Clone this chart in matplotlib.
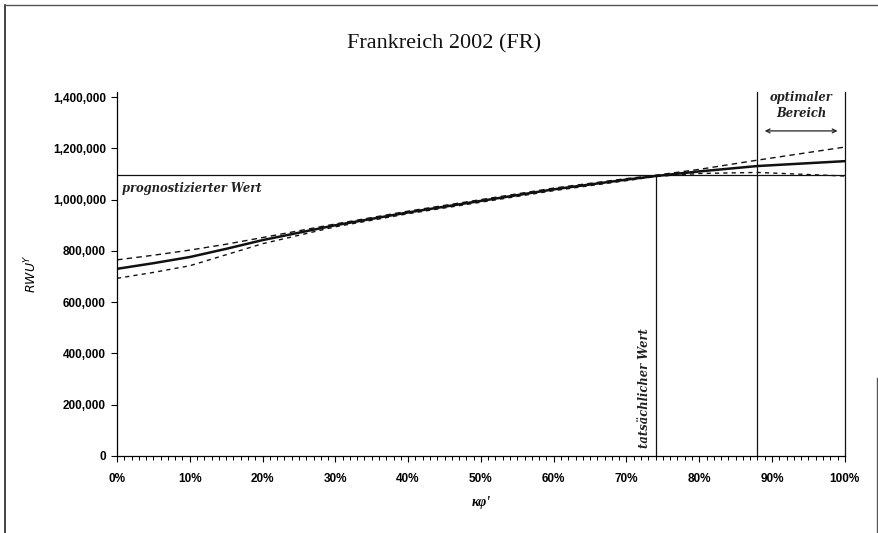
import numpy as np
import matplotlib
matplotlib.use("Agg")
import matplotlib.pyplot as plt
from matplotlib.ticker import MultipleLocator, FuncFormatter
from matplotlib.lines import Line2D

# anteil kappa-phi (0..1) und werte
x_share = [0.0, 0.05, 0.10, 0.15, 0.20, 0.30, 0.40, 0.50, 0.60, 0.70, 0.74, 0.80, 0.88, 1.00]
rwu_mid = [730000, 752000, 776000, 808000, 842000, 900000, 950000, 995000, 1040000, 1078000, 1092000, 1110000, 1131000, 1150000]
rwu_up = [765000, 783000, 803000, 826000, 852000, 905000, 955000, 1000000, 1045000, 1082000, 1095000, 1118000, 1154000, 1205000]
rwu_low = [693000, 716000, 742000, 785000, 828000, 894000, 945000, 990000, 1035000, 1074000, 1090000, 1102000, 1106000, 1092000]

prognose = 1095000
tatsaechlich = 0.74
optimal_von = 0.88
optimal_bis = 1.00

y_ticks = [0, 200000, 400000, 600000, 800000, 1000000, 1200000, 1400000]

tick_font = ['Liberation Sans Narrow', 'Liberation Sans', 'DejaVu Sans']
serif = ['Liberation Serif', 'DejaVu Serif']
note_font = ['DejaVu Serif']

fig = plt.figure(figsize=(8.79, 5.33), dpi=100)
ax = fig.add_axes([0.1331, 0.1445, 0.828, 0.683])

ax.plot(x_share, rwu_mid, color='#111111', lw=1.8)
ax.plot(x_share, rwu_up, color='#111111', lw=1.0, ls=(0, (4, 3)))
ax.plot(x_share, rwu_low, color='#111111', lw=1.0, ls=(0, (3, 3)))

# prognostizierter wert / tatsaechlicher wert / optimaler bereich
ax.plot([0, 1], [prognose, prognose], color='#111111', lw=0.9)
ax.plot([tatsaechlich, tatsaechlich], [0, prognose], color='#111111', lw=0.9)
ax.plot([optimal_von, optimal_von], [0, 1420000], color='#111111', lw=0.9, clip_on=False)
ax.plot([optimal_bis, optimal_bis], [0, 1420000], color='#111111', lw=0.9, clip_on=False)

ax.text(0.007, 1045000, 'prognostizierter Wert', family=note_font, style='italic',
        fontweight='bold', fontsize=8.3, va='center', ha='left', color='#222222')
ax.text(0.725, 265000, 'tatsächlicher Wert', family=note_font, style='italic',
        fontweight='bold', fontsize=8.3, rotation=90, va='center', ha='center', color='#222222')
ax.text(0.94, 1368000, 'optimaler\nBereich', family=note_font, style='italic',
        fontweight='bold', fontsize=8.3, va='center', ha='center', linespacing=1.3, color='#222222')
ax.annotate('', xy=(0.99, 1268000), xytext=(0.89, 1268000),
            arrowprops=dict(arrowstyle='<->', color='#222222', lw=0.9,
                            mutation_scale=7, shrinkA=0, shrinkB=0))

ax.set_xlim(0, 1)
ax.set_ylim(0, 1420000)
ax.spines['top'].set_visible(False)
ax.spines['right'].set_visible(False)
ax.spines['left'].set_linewidth(0.9)
ax.spines['bottom'].set_linewidth(0.9)

ax.xaxis.set_major_locator(MultipleLocator(0.1))
ax.xaxis.set_minor_locator(MultipleLocator(0.01))
ax.xaxis.set_major_formatter(FuncFormatter(lambda v, p: '%d%%' % round(v * 100)))
ax.set_yticks(y_ticks)
ax.yaxis.set_major_formatter(FuncFormatter(lambda v, p: '{:,.0f}'.format(v)))
ax.tick_params(axis='x', which='major', direction='out', length=4, width=0.8, pad=8)
ax.tick_params(axis='x', which='minor', direction='out', length=3, width=0.7)
ax.tick_params(axis='y', which='major', direction='out', length=4, width=0.8, pad=4)
for lab in ax.get_xticklabels() + ax.get_yticklabels():
    lab.set_family(tick_font)
    lab.set_fontweight('bold')
    lab.set_fontsize(8.5)

ax.set_ylabel(r'$\mathbf{\mathit{RWU}}^{Y}$', fontsize=9, labelpad=10)
ax.set_xlabel("κφ'", family=serif, style='italic', fontweight='bold', fontsize=10, labelpad=8)

fig.text(0.505, 0.918, 'Frankreich 2002 (FR)', family=serif, fontsize=16,
         ha='center', va='center', color='#111111')

# rahmen
fig.add_artist(Line2D([0.006, 0.006], [0.0, 0.99], transform=fig.transFigure, color='#222222', lw=1.2))
fig.add_artist(Line2D([0.006, 1.0], [0.99, 0.99], transform=fig.transFigure, color='#555555', lw=1.0))
fig.add_artist(Line2D([0.998, 0.998], [0.0, 0.29], transform=fig.transFigure, color='#555555', lw=1.0))

fig.savefig('out.png', dpi=100)
